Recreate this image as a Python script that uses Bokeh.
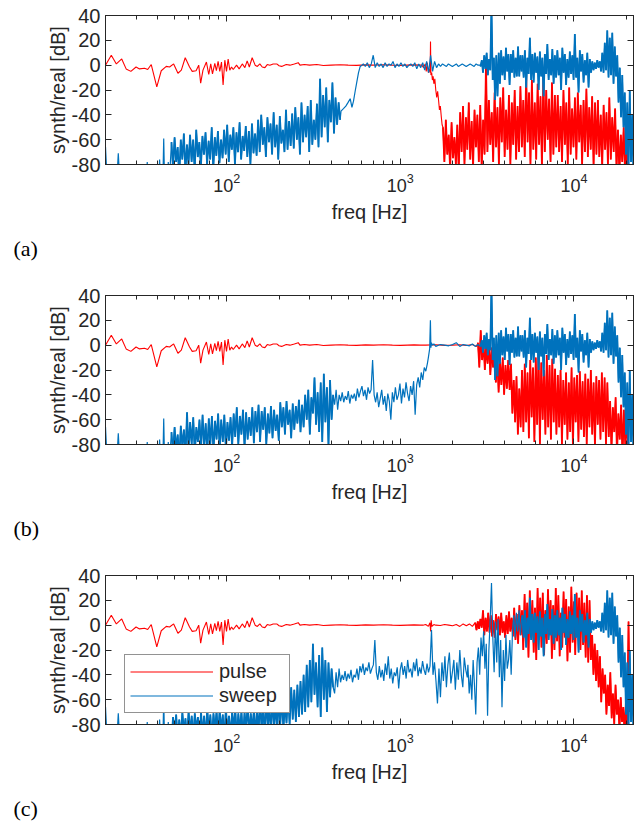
import numpy as np
from bokeh.plotting import figure
from bokeh.models import (Range1d, LinearAxis, LogAxis, FixedTicker, Title,
                          Legend, LegendItem, CustomJSTickFormatter)
from bokeh.layouts import column
from bokeh.embed import file_html
from bokeh.resources import INLINE

# ------------------------------------------------------------------ data
# pulse (red), low-frequency part, same in all three panels
pulse_low_f = [20, 21.6, 23.1, 24.8, 26.3, 28, 30, 31.4, 33.6, 35, 36.7, 39.5, 41.9, 44.8,
               46.8, 49.4, 52.3, 54.7, 57.6, 61, 63.2, 66.5, 68.9, 70.7, 72.9, 76.3, 78.7,
               80.8, 82.7, 85.3, 87.1, 89.1, 91.1, 93.2, 95.2, 97.4, 99.6, 101.8, 104, 106.5,
               108.9, 113.8, 117.8, 122.8, 127.1, 131, 134.8, 140, 145.6, 150, 155, 160,
               165.8, 171, 177, 185, 194, 200, 207, 220, 231, 245, 258, 264, 280, 300, 330,
               360, 400, 450, 500, 560, 630, 700, 800, 900, 1000, 1100, 1200, 1300]
pulse_low_db = [0, 8, 1, 5, -3, -5, -1.5, -3, -2.5, -3.5, 0.5, -17.5, -4.5, -1, -1.5, 1, -6.5,
                -4, 6, -1.5, -5, -4.5, 0, -14.5, -4, 2.5, -7.5, 1, -7, 1.5, -4.5, 3, -5, 2.5,
                -16, 4, -5, 5, -4, -1.5, -3.5, 0, -3, 1, -2, 3.5, -1.5, 6, 0, -1, 1, -1.5, -2,
                0.5, 0, 1, 1, -0.5, -1, 0.5, 0, 1, 2, 0, 0.5, 0, 0.5, -0.3, 0, 0.3, 0, -0.2,
                0.2, 0, 0.3, 0, -0.2, 0, 0.2, 0]

# sweep (blue), sparse start below 48 Hz, same in all panels
sweep_low_f = [20, 20.4, 20.8, 23.2, 23.7, 24.2, 34.3, 34.8, 35.3, 40.5, 41, 41.6, 42.8,
               43.3, 43.8, 45.5, 46, 46.6]
sweep_low_db = [-66, -90, -95, -95, -71, -95, -95, -78, -95, -95, -76, -95, -95, -59, -95,
                -95, -78, -95]

# ---- panel (a)
red_a_mid_f = [1330, 1360, 1390, 1410, 1430, 1450, 1470, 1485, 1492, 1500, 1515, 1530, 1545,
               1560, 1580, 1600, 1620, 1640, 1660, 1680, 1700, 1720, 1740]
red_a_mid_db = [0, -2, 1, -5, 2, -6, -3, -6, 19, -8, -6, -12, -9, -15, -11, -20, -26, -21,
                -28, -36, -33, -41, -48]
red_a_band = (1760, 20500)
red_a_noise_db = [-50, -78, -44, -72, -56, -84, -46, -75, -58, -80, -48, -86,
                  -38, -70, -33, -80, -42, -68, -30, -76, -45, -82, -36, -66, -40, -78, -32,
                  -84, -44, -72,
                  1,
                  -70, -28, -64, -38, -78, -22, -66, -34, -80, -26, -62, -18, -74, -36, -68,
                  -24, -80, -30, -64, -20, -76, -33, -70,
                  -17, -66, -28, -74, -6, -62, -22, -80, -12, -68, -30, -76, -15, -64, -25,
                  -82, -9, -70, -20, -60, -27, -78, -14, -72, -24, -66,
                  -24, -70, -33, -78, -20, -64, -30, -80, -18, -72, -35, -66, -26, -76, -22,
                  -62, -32, -80, -28, -70, -19, -74, -34, -68, -25, -82, -30, -72,
                  -28, -74, -40, -82, -32, -68, -38, -80, -26, -76, -42, -70, -35, -84,
                  -52, -86, -56, -78, -50, -90, -60, -84]

blue_a_lo_band = (48, 450)
blue_a_lo_db = [-62, -84, -58, -78, -66, -90, -60, -76, -55, -86, -64, -80,
                -56, -78, -60, -85, -52, -74, -62, -82, -57, -72, -54, -80, -61, -76, -50,
                -84, -58, -73, -53, -79, -60, -75,
                -52, -72, -48, -78, -56, -68, -50, -80, -54, -70, -46, -76, -57, -69, -49,
                -74, -53, -80, -47, -71, -55, -73,
                -44, -70, -40, -64, -50, -74, -42, -62, -47, -72, -38, -66, -48, -76, -41,
                -63, -52, -70, -36, -68, -45, -65, -39,
                -67, -34, -60, -42, -72, -30, -62, -40, -58, -33, -70, -28, -64, -44, -60,
                -31, -66,
                -11,
                -58, -24, -50, -18, -62, -28, -46, -14, -55, -26, -48, -30, -44]
blue_a_rise_f = [455, 470, 485, 500, 514, 526, 537, 549, 562, 574, 587, 600]
blue_a_rise_db = [-37, -35, -33, -30, -27, -34, -29, -21, -13, -6, -1, 0]
blue_a_flat_band = (612, 2880)
blue_a_flat_db = [1, -1, 2, -2, 1, 8, -2, 2, -1, 1,
                  -2, 2, -1, 1, 0, 3, -2, 1, -1, 2,
                  -1, 1, -2, 0, 1, -1, 2, -3, 1, -2,
                  2, -4, 3, -6, 8, -5, 3, -2, 1, -1,
                  1, 0, -1, 1, 0, -1, 0, 1, -1, 0,
                  1, 0, -1, 0, 1, 0, -1, 1, 0, 0]

# sweep, 2.9k-5k (panels a and b) and 5k-22k (all panels)
blue_mid_band = (2900, 5000)
blue_mid_db = [-1, 4, -6, 8, -3, 10, -8, 5, -4, 48, -12, 6, -28, 8, -25, 10, -15, 12, -8, 7,
               -12, 14, -5, 9, -16, 9, -6, 12, -10, 6, -9, 15, -9, 8, -5]
blue_hi_band = (5050, 22050)
blue_hi_db = [8, -10, 12, -18, 6, -7, 22, -12, 9, -14, 10, -6, 7, -20,
              11, -9, 6, -25, 9, -7, 17, -12, 5, -8, 13, -15, 8, -10,
              12, -8, 6, -20, 14, -6, 9, -16, 5, -10, 11, -7, 8, -12,
              25, -10, 6, -22, 12, -5, 9, -14, 4, -8, 10, -18, 5, -6,
              3, -4, 2, -3, 4, -2, 3, -5,
              10, -6, 18, -4, 28, -10, 22, -8, 26, -15, 15, -9,
              8, -30, -2, -42, -8, -50,
              -22, -72, -30, -85, -20, -78, -40, -90]

# ---- panel (b)
red_b_flat_f = [1400, 1600, 1800, 2000, 2200, 2400, 2600, 2750]
red_b_flat_db = [0, 0.3, -0.2, 0, 0.3, -0.3, 0.5, -1]
red_b_band = (2800, 20500)
red_b_noise_db = [2, -18, 12, -12, 3, -20,
                  0, -15, 3, -24, -2, -18, 1,
                  -30, -8, -38, -14, -32, -10, -40, -16, -35, -12, -36, -15,
                  -55, -28, -62, -25, -72, -35, -66,
                  -20, -70, -15, -62, -22, -75, -12, -58, -18, -78, -10, -64, -6, -80, -14,
                  -60, -20, -72, -8, -66, -16, -76, -11, -62, -19,
                  -72, -24, -66, -20, -80, -28, -64, -22, -76, -30, -70, -18, -82, -26, -62,
                  -24, -78, -21, -68, -29, -74, -23, -80, -27, -66, -20, -72, -30, -82, -25,
                  -64, -28, -76, -22, -70, -26, -80, -30,
                  -74, -45, -84, -50, -70, -42, -88, -55, -76, -48, -90, -52, -80, -58, -86]
blue_b_lo_band = (48, 410)
blue_b_lo_db = [-70, -88, -66, -84, -72, -92, -65, -82, -68, -90,
                -54, -86, -62, -80, -58, -88, -66, -78, -60, -84, -56, -82, -63, -87, -59,
                -80, -57, -86, -61, -76, -55, -84, -60, -78, -56, -85, -62, -77, -58, -82,
                -55, -74, -50, -80, -57, -72, -52, -83, -54, -76, -58, -73, -50, -79, -53,
                -70, -48, -78, -53, -68, -50, -80, -55, -71, -49, -75, -52, -69, -56, -77,
                -46, -66, -50, -72, -45, -64, -52, -75, -47, -68, -49, -63, -44, -70, -48,
                -66, -40, -60, -36, -72, -42, -55, -26, -64,
                -38, -70, -30, -78, -23, -62, -34, -82, -28, -60, -40]
blue_b_mid_band = (418, 1430)
blue_b_mid_db = [-48, -36, -52, -40, -45,
                 -38, -46, -41, -44, -37, -47, -40, -43, -39, -45,
                 -35, -42, -37, -33, -41, -36, -44, -34, -39, -36,
                 -12,
                 -40, -46, -38, -50, -43, -36, -48, -41, -53, -39, -45,
                 -60,
                 -38, -46, -34, -44, -40, -31, -47,
                 -35, -42, -30, -39, -45, -33, -40, -29,
                 -56,
                 -32, -26, -34, -22, -28, -18, -21, -15]
blue_b_flat_f = [1450, 1475, 1490, 1500, 1510, 1530, 1560, 1600, 1700, 1800, 1900, 2000,
                 2100, 2200, 2300, 2400, 2500, 2600, 2700, 2800]
blue_b_flat_db = [-10, -3, 20, -2, 2, 0, 1, -1, 0.5, 0, -0.5, 0.5, 2, -1, 0.5, 0, -0.5, 1,
                  -1, 0.5]

# ---- panel (c)
red_c_mid_f = [1350, 1400, 1450, 1480, 1495, 1505, 1520, 1560, 1600, 1700, 1800, 1900,
               2000, 2100, 2200, 2300, 2400, 2500, 2600]
red_c_mid_db = [0, 0.5, -1, 2, -5, 4, -1, 0.5, 0, -0.3, 0.5, 0, -0.5, 0.5, -1, 1, -0.5, 1,
                -1]
red_c_band = (2700, 21000)
red_c_noise_db = [2, -4, 3, -3, 5, -2,
                  12, -8, 6, -5, 10, -6,
                  8, -9, 4, -10, 9, -4, 7, -8, 10, -6, 3, -10, 8, -7, 11, -5, 6, -9,
                  14, -12, 9, -15, 16, -8, 12,
                  -20, 25, -14, 18, -26, 28, -10, 20, -22, 14,
                  -28, 30, -12, 22, -18, 26, -24, 12, -15, 29,
                  -8, 20, -27, 16, -20, 30, -13, 24, -25, 10,
                  -18, 27, -10, 21, -29, 15, -22, 31, -14, 19,
                  -24, 26, -9, 22, -20, 28, -16, 18,
                  -26, 24, -30, 20, -28,
                  -8, -40, -15, -45, -20,
                  -50, -25, -62, -35, -55,
                  -40, -72, -48, -65, -38, -75,
                  -55, -80, -48, -72, -60, -84,
                  -58, -78, -66, -88, -62,
                  -80, 3, -70]
blue_c_lo_band = (48, 410)
blue_c_lo_db = [-95, -74, -88, -72, -92, -76, -90, -70, -86, -75, -94, -69, -87, -73, -91,
                -71, -84, -74, -95, -70, -88, -73, -91, -67, -86, -72, -92, -71, -85, -69,
                -90, -68, -85, -72, -93, -66, -87, -73, -89, -70, -84, -66, -92, -71, -86,
                -69, -91, -70, -84, -64, -88, -71, -85, -68, -90,
                -67, -86, -62, -84, -65, -90, -60, -82, -66, -87, -58, -83, -63, -85, -60,
                -80, -58, -84, -62, -79,
                -55, -80, -50, -76, -52, -78, -48, -74, -45, -72,
                -40, -70, -32, -66, -28, -62, -15, -56, -30,
                -66, -24, -74, -18, -60, -28, -70, -30, -58, -35, -50]
blue_c_mid_band = (418, 2430)
blue_c_mid_db = [-55, -38, -50, -35, -46,
                 -40, -44, -37, -45, -39, -43, -36, -46, -40, -42, -35, -44,
                 -33, -38, -31, -40, -34, -37, -30, -39, -35, -32,
                 -12,
                 -38, -44, -33, -42, -36, -45, -31, -40, -25, -43, -35, -47, -38, -41, -34,
                 -51,
                 -36, -30, -40, -33, -43, -28, -38, -35, -42, -30, -37, -27, -41, -34, -39,
                 -29, -36, -40, -31, -38, -33,
                 -4,
                 -40, -30, -45,
                 -63,
                 -35, -58, -30,
                 -45, -25, -50, -32, -22, -47, -38, -28, -52, -30, -44, -20, -40, -50, -26,
                 -36, -42]
blue_c_mid2_band = (2450, 5000)
blue_c_mid2_db = [-32, -55, -40, -60, -28, -48,
                  -72,
                  -30, -18, -40, -10, -25, -5, -35,
                  -15,
                  -73,
                  -20, 5,
                  34,
                  -10, -38, 3, -30, 5, -42, -12,
                  -66,
                  -20, -45, -8, -35, -28, -12, -40, -5,
                  8, -10, 10, -5, 12, -8, 6]

x_ticks = [100, 1000, 10000]
y_ticks = [-80, -60, -40, -20, 0, 20, 40]
panel_tags = ["(a)", "(b)", "(c)"]
series_names = ["pulse", "sweep"]


# ------------------------------------------------------------------ helpers
def band(rng, vals):
    """frequency grid (log spaced bins) for a block of typed values"""
    return list(np.geomspace(rng[0], rng[1], len(vals)))


def join(*parts):
    xs, ys = [], []
    for f, d in parts:
        assert len(f) == len(d), (len(f), len(d))
        xs += list(f)
        ys += list(d)
    return xs, ys


red_a_dense = [(band(red_a_band, red_a_noise_db), red_a_noise_db)]
blue_a_dense = [(band(blue_a_lo_band, blue_a_lo_db), blue_a_lo_db),
                (band(blue_mid_band, blue_mid_db), blue_mid_db),
                (band(blue_hi_band, blue_hi_db), blue_hi_db)]
red_b_dense = [(band(red_b_band, red_b_noise_db), red_b_noise_db)]
blue_b_dense = [(band(blue_b_lo_band, blue_b_lo_db), blue_b_lo_db),
                (band(blue_mid_band, blue_mid_db), blue_mid_db),
                (band(blue_hi_band, blue_hi_db), blue_hi_db)]
red_c_dense = [(band(red_c_band, red_c_noise_db), red_c_noise_db)]
blue_c_dense = [(band(blue_c_lo_band, blue_c_lo_db), blue_c_lo_db),
                (band(blue_hi_band, blue_hi_db), blue_hi_db)]

red_a = join((pulse_low_f, pulse_low_db), (red_a_mid_f, red_a_mid_db), red_a_dense[0])
blue_a = join((sweep_low_f, sweep_low_db), blue_a_dense[0],
              (blue_a_rise_f, blue_a_rise_db),
              (band(blue_a_flat_band, blue_a_flat_db), blue_a_flat_db),
              blue_a_dense[1], blue_a_dense[2])
red_b = join((pulse_low_f, pulse_low_db), (red_b_flat_f, red_b_flat_db), red_b_dense[0])
blue_b = join((sweep_low_f, sweep_low_db), blue_b_dense[0],
              (band(blue_b_mid_band, blue_b_mid_db), blue_b_mid_db),
              (blue_b_flat_f, blue_b_flat_db),
              blue_b_dense[1], blue_b_dense[2])
red_c = join((pulse_low_f, pulse_low_db), (red_c_mid_f, red_c_mid_db), red_c_dense[0])
blue_c = join((sweep_low_f, sweep_low_db), blue_c_dense[0],
              (band(blue_c_mid_band, blue_c_mid_db), blue_c_mid_db),
              (band(blue_c_mid2_band, blue_c_mid2_db), blue_c_mid2_db),
              blue_c_dense[1])

RED = "#FF0000"
BLUE = "#0072BD"
AX = "#262626"
FONT = "Liberation Sans"
minor = [m * 10 ** k for k in (1, 2, 3, 4) for m in range(2, 10) if 20 <= m * 10 ** k <= 22050]


def style_axis(ax, labels=True, size="20px"):
    ax.axis_line_color = AX
    ax.major_tick_line_color = AX
    ax.minor_tick_line_color = AX
    ax.major_tick_in = 6
    ax.major_tick_out = 0
    ax.minor_tick_in = 4
    ax.minor_tick_out = 0
    ax.major_label_text_font = FONT
    ax.major_label_text_color = AX
    ax.axis_label_text_font = FONT
    ax.axis_label_text_color = AX
    ax.axis_label_text_font_style = "normal"
    ax.axis_label_text_font_size = "20px"
    if labels:
        ax.major_label_text_font_size = size
    else:
        ax.major_label_text_font_size = "0px"
        ax.major_label_standoff = 0
        ax.formatter = CustomJSTickFormatter(code="return ''")


def panel(red, blue, red_dense, blue_dense, tag, bottom, legend=False):
    p = figure(frame_width=528, frame_height=149, x_axis_type="log",
               x_range=Range1d(20, 22050), y_range=Range1d(-80, 40),
               output_backend="svg", toolbar_location=None,
               min_border_left=105, min_border_top=15, min_border_right=2,
               min_border_bottom=bottom,
               x_axis_label="freq [Hz]", y_axis_label="synth/real [dB]",
               background_fill_color="white", border_fill_color="white")
    p.outline_line_color = AX
    p.outline_line_width = 1
    p.xgrid.visible = False
    p.ygrid.visible = False

    r1 = p.line(red[0], red[1], line_color=RED, line_width=1.1)
    for f, d in red_dense:
        p.line(f, d, line_color=RED, line_width=1.8)
    r2 = p.line(blue[0], blue[1], line_color=BLUE, line_width=1.2)
    for f, d in blue_dense:
        p.line(f, d, line_color=BLUE, line_width=1.8)

    xa = p.xaxis[0]
    xa.ticker = FixedTicker(ticks=x_ticks, minor_ticks=minor)
    style_axis(xa, size="18px")
    xa.major_label_standoff = 8
    xa.axis_label_standoff = 6

    ya = p.yaxis[0]
    ya.ticker = FixedTicker(ticks=y_ticks)
    style_axis(ya)
    ya.formatter = CustomJSTickFormatter(code="return tick.toFixed(0)")
    ya.minor_tick_line_color = None
    ya.major_label_standoff = 5
    ya.axis_label_standoff = 0

    top = LogAxis(ticker=FixedTicker(ticks=x_ticks, minor_ticks=minor))
    style_axis(top, labels=False)
    p.add_layout(top, "above")
    right = LinearAxis(ticker=FixedTicker(ticks=y_ticks))
    style_axis(right, labels=False)
    right.minor_tick_line_color = None
    p.add_layout(right, "right")

    p.add_layout(Title(text=tag, align="left", offset=-92, standoff=17,
                       text_font="Liberation Serif", text_font_size="22px",
                       text_font_style="normal", text_color="black"), "below")

    if legend:
        lg = Legend(items=[LegendItem(label=series_names[0], renderers=[r1]),
                           LegendItem(label=series_names[1], renderers=[r2])],
                    location=(19, 11), orientation="vertical",
                    label_text_font=FONT, label_text_font_size="20px",
                    label_text_color=AX, glyph_width=83, glyph_height=23,
                    label_height=23, label_width=65, label_standoff=6,
                    spacing=1, padding=5, margin=0,
                    border_line_color=AX, border_line_width=1,
                    background_fill_color="white", background_fill_alpha=1)
        p.add_layout(lg, "center")
    return p


p1 = panel(red_a, blue_a, red_a_dense, blue_a_dense, panel_tags[0], 116)
p2 = panel(red_b, blue_b, red_b_dense, blue_b_dense, panel_tags[1], 116)
p3 = panel(red_c, blue_c, red_c_dense, blue_c_dense, panel_tags[2], 100, legend=True)

layout = column(p1, p2, p3, spacing=0)
open("out.html", "w").write(file_html(layout, INLINE))
